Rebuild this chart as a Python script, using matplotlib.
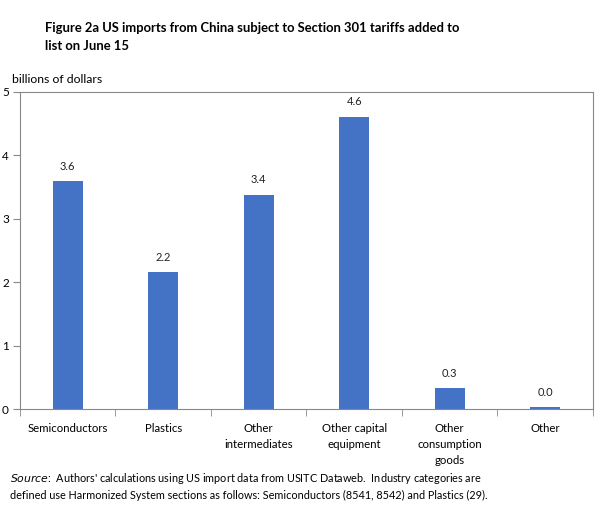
import matplotlib
matplotlib.use("Agg")
import matplotlib.pyplot as plt
import numpy as np

# Data
categories = ['Semiconductors', 'Plastics', 'Other\nintermediates',
              'Other capital\nequipment', 'Other\nconsumption\ngoods', 'Other']
values = [3.59, 2.16, 3.38, 4.61, 0.33, 0.03]
yticks = [0, 1, 2, 3, 4, 5]

plt.rcParams['font.family'] = ['Lato', 'DejaVu Sans']

fig = plt.figure(figsize=(6.13, 5.13), dpi=100)
ax = fig.add_axes([0.0326, 0.2027, 0.9347, 0.618])

x = np.arange(len(categories))
bars = ax.bar(x, values, width=0.31, color='#4472C4', zorder=2)

for b, v in zip(bars, values):
    ax.text(b.get_x() + b.get_width() / 2, v + 0.15, f'{v:.1f}',
            ha='center', va='bottom', fontsize=8, color='#222222')

ax.set_xlim(-0.5, len(categories) - 0.5)
ax.set_ylim(0, 5)
ax.set_yticks(yticks)
ax.set_xticks(x)
ax.set_xticklabels(categories, fontsize=8.2, va='top', linespacing=1.55)
ax.set_xticks(np.arange(-0.5, len(categories)), minor=True)
ax.tick_params(axis='x', which='major', length=0, pad=10)
ax.tick_params(axis='x', which='minor', length=5, color='#888888', direction='out')
ax.tick_params(axis='y', length=5, color='#888888', labelsize=8.5, pad=3)

for s in ax.spines.values():
    s.set_color('#888888')
    s.set_linewidth(0.8)

# title
fig.text(0.074, 0.958, 'Figure 2a US imports from China subject to Section 301 tariffs added to\nlist on June 15',
         fontsize=9.4, fontweight='bold', va='top', ha='left', linespacing=1.6)
fig.text(0.02, 0.835, 'billions of dollars', fontsize=8.8, va='bottom', ha='left')

# source note
fig.text(0.017, 0.052, "$\\it{Source}$:  Authors' calculations using US import data from USITC Dataweb.  Industry categories are"
         "\ndefined use Harmonized System sections as follows: Semiconductors (8541, 8542) and Plastics (29).",
         fontsize=7.8, va='center', ha='left', linespacing=1.45)

fig.savefig('out.png', dpi=100)
